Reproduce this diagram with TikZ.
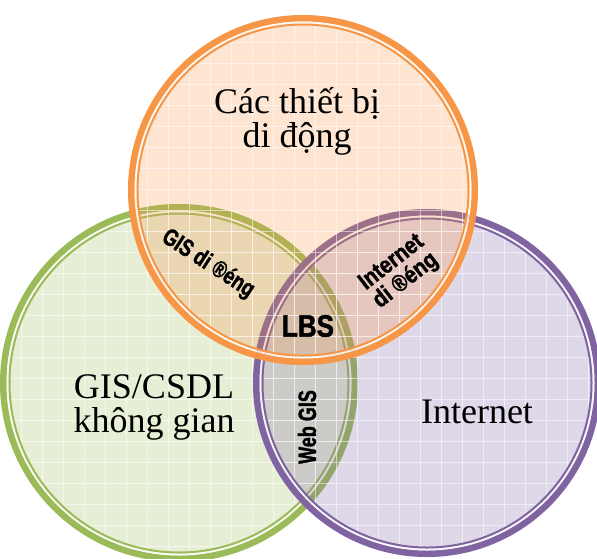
\documentclass[tikz,border=0pt]{standalone}
\usepackage{fontspec}
\setmainfont{Liberation Serif}
\newfontfamily\labelfont{Liberation Sans}[BoldFeatures={FakeBold=1.6}]

\definecolor{mobileorange}{HTML}{F79646}
\definecolor{gisgreen}{HTML}{9BBB59}
\definecolor{netpurple}{HTML}{8064A2}

\tikzset{
    setfill/.style={
        fill=#1,                 % relleno con el color del conjunto
        fill opacity=0.25        % transparente: las intersecciones se mezclan
    },
    setring/.style={
        draw=#1,                 % borde exterior grueso
        line width=6.5pt
    },
    setinner/.style={
        draw=#1,                 % linea fina interior
        line width=2pt
    },
    gridline/.style={
        draw=white,              % cuadricula blanca muy suave
        line width=0.8pt,
        opacity=0.55,
        step=21pt
    },
    biglabel/.style={
        font=\fontsize{36}{34}\selectfont,
        align=center,
        inner sep=0pt
    },
    overlaplabel/.style={
        font=\labelfont\bfseries\fontsize{24}{23}\selectfont,
        align=center,
        inner sep=0pt
    }
}

\begin{document}
\begin{tikzpicture}[x=1pt,y=-1pt]
    \useasboundingbox (0,0) rectangle (597,558);

    % tres conjuntos: GIS, Internet, dispositivos moviles
    \foreach \cx/\cy/\r/\col in {179/383/179/gisgreen, 427/383/174/netpurple, 303/190/175/mobileorange}{
        \fill[setfill=\col] (\cx,\cy) circle (\r);
        \begin{scope}
            \clip (\cx,\cy) circle (\r);
            \draw[gridline] (\cx-\r,\cy-\r) grid (\cx+\r,\cy+\r);
        \end{scope}
        \draw[setring=\col] (\cx,\cy) circle (\r-3.25);
        \draw[white, line width=2pt, opacity=0.8] (\cx,\cy) circle (\r-7.5);
        \draw[setinner=\col] (\cx,\cy) circle (\r-9.5);
    }

    % textos de cada conjunto (base = linea de abajo)
    \node[biglabel, anchor=base] (mobile) at (297,147) {Các thiết bị\\di động};
    \node[biglabel, anchor=base] (gis) at (154,432) {GIS/CSDL\\không gian};
    \node[biglabel, anchor=base] (internet) at (477,423) {Internet};

    % intersecciones
    \node[overlaplabel, rotate=-33] (gismobile) at (208,264) {\scalebox{0.77}[1]{GIS di ®éng}};
    \node[overlaplabel, rotate=38] (netmobile) at (399,272) {\scalebox{0.85}[1]{Internet}\\\scalebox{0.85}[1]{di ®éng}};
    \node[overlaplabel, font=\labelfont\bfseries\fontsize{25}{27}\selectfont, rotate=90] (webgis) at (307,427) {\scalebox{0.72}[1]{Web GIS}};
    \node[overlaplabel, font=\labelfont\bfseries\fontsize{31}{33}\selectfont] (lbs) at (308,326) {\scalebox{0.84}[1]{LBS}};
\end{tikzpicture}
\end{document}
